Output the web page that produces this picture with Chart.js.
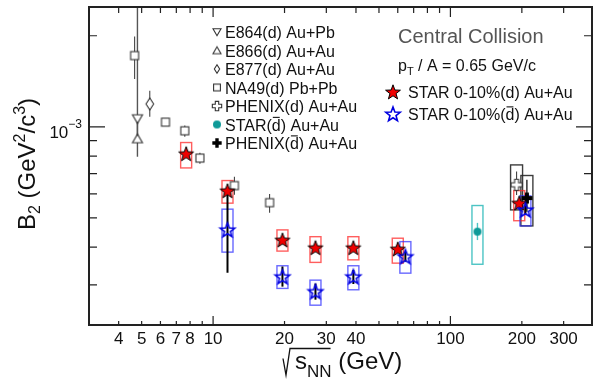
<!DOCTYPE html>
<html lang="en">
<head>
<meta charset="UTF-8">
<title>B2 vs collision energy</title>
<script src="https://cdn.jsdelivr.net/npm/chart.js@4.4.1/dist/chart.umd.min.js"></script>
<style>
  html, body { margin: 0; padding: 0; background: #fff; }
</style>
</head>
<body>
<canvas id="myChart" width="600" height="383"></canvas>
<script>
// values (x = sqrt(sNN) in GeV, y = B2 in GeV^2/c^3)
const xTickLabels = [4, 5, 6, 7, 8, 10, 20, 30, 40, 100, 200, 300];
const xMinorTicks = [3, 4, 5, 6, 7, 8, 9, 20, 30, 40, 50, 60, 70, 80, 90, 200, 300];
const xMajorTicks = [10, 100];
const yMinorTicks = [3e-4, 4e-4, 5e-4, 6e-4, 7e-4, 8e-4, 9e-4, 2e-3];
const yMajorTicks = [1e-3];

// STAR 0-10% deuterons
const starDX     = [7.7, 11.5, 19.6, 27, 39, 60, 195];
const starD      = [8.14e-4, 6.14e-4, 4.22e-4, 3.98e-4, 3.98e-4, 3.94e-4, 5.59e-4];
const starDSysLo = [7.31e-4, 5.59e-4, 3.88e-4, 3.56e-4, 3.63e-4, 3.54e-4, 4.89e-4];
const starDSysHi = [8.87e-4, 6.64e-4, 4.56e-4, 4.33e-4, 4.33e-4, 4.28e-4, 6.15e-4];

// STAR 0-10% anti-deuterons
const starDbarX     = [11.5, 19.6, 27, 39, 64.6, 207];
const starDbar      = [4.56e-4, 3.19e-4, 2.85e-4, 3.19e-4, 3.72e-4, 5.31e-4];
const starDbarErrLo = [3.29e-4, 2.96e-4, 2.68e-4, 3.02e-4, 3.58e-4, 5.15e-4];
const starDbarErrHi = [6.04e-4, 3.45e-4, 3.03e-4, 3.36e-4, 3.86e-4, 5.48e-4];
const starDbarSysLo = [3.85e-4, 2.92e-4, 2.57e-4, 2.89e-4, 3.28e-4, 4.70e-4];
const starDbarSysHi = [5.34e-4, 3.47e-4, 3.11e-4, 3.47e-4, 4.17e-4, 5.91e-4];

// STAR anti-deuterons at 130 GeV
const star130X = [130];
const star130 = [4.50e-4];
const star130ErrLo = [4.22e-4];
const star130ErrHi = [4.81e-4];
const star130SysLo = [3.51e-4];
const star130SysHi = [5.49e-4];

// PHENIX
const phenixDX = [190];
const phenixD = [6.43e-4];
const phenixDErrLo = [5.95e-4];
const phenixDErrHi = [7.11e-4];
const phenixDSysLo = [5.31e-4];
const phenixDSysHi = [7.48e-4];
const phenixDbarX = [210];
const phenixDbar = [5.81e-4];
const phenixDbarErrLo = [5.24e-4];
const phenixDbarErrHi = [6.68e-4];
const phenixDbarSysLo = [4.70e-4];
const phenixDbarSysHi = [6.90e-4];

// NA49
const na49X = [4.67, 6.3, 7.6, 8.8, 12.3, 17.3];
const na49 = [1.72e-3, 1.036e-3, 9.70e-4, 7.88e-4, 6.39e-4, 5.61e-4];
const na49ErrLo = [1.44e-3, 1.02e-3, 9.27e-4, 7.54e-4, 5.96e-4, 5.20e-4];
const na49ErrHi = [1.99e-3, 1.05e-3, 1.01e-3, 8.20e-4, 6.84e-4, 5.99e-4];

// AGS
const e864X = [4.8], e864 = [1.063e-3], e864ErrLo = [9.2e-4], e864ErrHi = [3e-3];
const e866X = [4.8], e866 = [9.13e-4], e866ErrLo = [7.96e-4], e866ErrHi = [1.063e-3];
const e877X = [5.41], e877 = [1.19e-3], e877ErrLo = [1.079e-3], e877ErrHi = [1.316e-3];

const FONT = '"Liberation Sans", Arial, Helvetica, sans-serif';

// ---- marker images ----
function markerCanvas(w, h, draw) {
  const c = document.createElement('canvas');
  c.width = w; c.height = h;
  draw(c.getContext('2d'), w / 2, h / 2);
  return c;
}
function starPath(g, cx, cy, R, r) {
  g.beginPath();
  for (let i = 0; i < 10; i++) {
    const rad = i % 2 ? r : R;
    const a = -Math.PI / 2 + i * Math.PI / 5;
    const X = cx + rad * Math.cos(a), Y = cy + rad * Math.sin(a);
    if (i) g.lineTo(X, Y); else g.moveTo(X, Y);
  }
  g.closePath();
}
function polyPath(g, pts) {
  g.beginPath();
  pts.forEach((p, i) => i ? g.lineTo(p[0], p[1]) : g.moveTo(p[0], p[1]));
  g.closePath();
}
function crossPts(cx, cy, a, b) {
  return [[cx - b, cy - a], [cx + b, cy - a], [cx + b, cy - b], [cx + a, cy - b], [cx + a, cy + b],
          [cx + b, cy + b], [cx + b, cy + a], [cx - b, cy + a], [cx - b, cy + b], [cx - a, cy + b],
          [cx - a, cy - b], [cx - b, cy - b]];
}
function redStar(s) {
  return markerCanvas(20, 20, (g, cx, cy) => {
    starPath(g, cx, cy + 0.6, 7.8 * s, 3.2 * s);
    g.fillStyle = '#f00000'; g.fill();
    g.strokeStyle = '#000'; g.lineWidth = 1; g.stroke();
  });
}
function blueStar(s) {
  return markerCanvas(20, 20, (g, cx, cy) => {
    starPath(g, cx, cy + 0.6, 7.6 * s, 3.2 * s);
    g.strokeStyle = '#0000e0'; g.lineWidth = 1.6; g.stroke();
  });
}
function triDown(s) {
  return markerCanvas(14, 14, (g, cx, cy) => {
    polyPath(g, [[cx - 5 * s, cy - 4 * s], [cx + 5 * s, cy - 4 * s], [cx, cy + 4.6 * s]]);
    g.fillStyle = '#fff'; g.fill(); g.strokeStyle = '#333'; g.lineWidth = 1.1; g.stroke();
  });
}
function triUp(s) {
  return markerCanvas(14, 14, (g, cx, cy) => {
    polyPath(g, [[cx - 5 * s, cy + 4 * s], [cx + 5 * s, cy + 4 * s], [cx, cy - 4.6 * s]]);
    g.fillStyle = '#fff'; g.fill(); g.strokeStyle = '#333'; g.lineWidth = 1.1; g.stroke();
  });
}
function diamond(s) {
  return markerCanvas(14, 16, (g, cx, cy) => {
    polyPath(g, [[cx, cy - 6 * s], [cx + 3.8 * s, cy], [cx, cy + 6 * s], [cx - 3.8 * s, cy]]);
    g.fillStyle = '#fff'; g.fill(); g.strokeStyle = '#333'; g.lineWidth = 1.1; g.stroke();
  });
}
function square(s) {
  return markerCanvas(12, 12, (g, cx, cy) => {
    g.fillStyle = '#fff'; g.fillRect(cx - 4 * s, cy - 4 * s, 8 * s, 8 * s);
    g.strokeStyle = '#333'; g.lineWidth = 1.1; g.strokeRect(cx - 4 * s, cy - 4 * s, 8 * s, 8 * s);
  });
}
function openCross(s) {
  return markerCanvas(14, 14, (g, cx, cy) => {
    polyPath(g, crossPts(cx, cy, 5.5 * s, 2 * s));
    g.fillStyle = '#fff'; g.fill(); g.strokeStyle = '#333'; g.lineWidth = 1.1; g.stroke();
  });
}
function fullCross(s) {
  return markerCanvas(14, 14, (g, cx, cy) => {
    polyPath(g, crossPts(cx, cy, 5.5 * s, 2 * s));
    g.fillStyle = '#000'; g.fill();
  });
}
function tealDot(s) {
  return markerCanvas(12, 12, (g, cx, cy) => {
    g.beginPath(); g.arc(cx, cy, 4 * s, 0, Math.PI * 2);
    g.fillStyle = '#0e9a98'; g.fill();
  });
}

const pts = (xs, ys) => xs.map((x, i) => ({ x: x, y: ys[i] }));

// ---- boxes and error bars built from the arrays ----
const boxes = [];
const addBoxes = (xs, lo, hi, color, w) => xs.forEach((x, i) => boxes.push({ x, lo: lo[i], hi: hi[i], color, w }));
addBoxes(phenixDX, phenixDSysLo, phenixDSysHi, 'rgba(40,40,40,0.9)', 12);
addBoxes(phenixDbarX, phenixDbarSysLo, phenixDbarSysHi, 'rgba(40,40,40,0.9)', 12);
addBoxes(star130X, star130SysLo, star130SysHi, '#4cc4c4', 11);
addBoxes(starDX, starDSysLo, starDSysHi, 'rgba(255,40,40,0.75)', 11);
addBoxes(starDbarX, starDbarSysLo, starDbarSysHi, 'rgba(40,40,255,0.7)', 11);

const bars = [];
const addBars = (xs, lo, hi, color, lw) => xs.forEach((x, i) => bars.push({ x, lo: lo[i], hi: hi[i], color, lw }));
addBars(e864X, e864ErrLo, e864ErrHi, '#555', 1.4);
addBars(e866X, e866ErrLo, e866ErrHi, '#555', 1.4);
addBars(e877X, e877ErrLo, e877ErrHi, '#444', 1.1);
addBars(na49X, na49ErrLo, na49ErrHi, '#444', 1.1);
addBars(phenixDX, phenixDErrLo, phenixDErrHi, '#444', 1.1);
addBars(phenixDbarX, phenixDbarErrLo, phenixDbarErrHi, '#222', 1.4);
addBars(star130X, star130ErrLo, star130ErrHi, '#4cc4c4', 1.4);
addBars(starDbarX, starDbarErrLo, starDbarErrHi, '#000', 2);

function textRuns(ctx, x, y, parts, align) {
  let w = 0;
  parts.forEach(p => { ctx.font = p[1] + 'px ' + FONT; w += ctx.measureText(p[0]).width; });
  let cx = align === 'center' ? x - w / 2 : align === 'right' ? x - w : x;
  parts.forEach(p => {
    ctx.font = p[1] + 'px ' + FONT;
    const dy = p[2] || 0;
    ctx.fillText(p[0], cx, y + dy);
    const tw = ctx.measureText(p[0]).width;
    if (p[3]) {
      ctx.save();
      ctx.strokeStyle = ctx.fillStyle; ctx.lineWidth = 1.1;
      ctx.beginPath();
      ctx.moveTo(cx + 1, y + dy - p[1] * 0.82);
      ctx.lineTo(cx + tw - 1, y + dy - p[1] * 0.82);
      ctx.stroke();
      ctx.restore();
    }
    cx += tw;
  });
  return w;
}

const decor = {
  id: 'decor',
  beforeDatasetsDraw(chart) {
    const { ctx, chartArea: a, scales: { x, y } } = chart;
    ctx.save();
    ctx.beginPath(); ctx.rect(a.left, a.top, a.right - a.left, a.bottom - a.top); ctx.clip();
    boxes.forEach(b => {
      const px = x.getPixelForValue(b.x);
      const y1 = y.getPixelForValue(b.hi), y2 = y.getPixelForValue(b.lo);
      ctx.strokeStyle = b.color; ctx.lineWidth = 1.4;
      ctx.strokeRect(px - b.w / 2, y1, b.w, y2 - y1);
    });
    bars.forEach(b => {
      const px = x.getPixelForValue(b.x);
      ctx.strokeStyle = b.color; ctx.lineWidth = b.lw;
      ctx.beginPath();
      ctx.moveTo(px, y.getPixelForValue(b.hi));
      ctx.lineTo(px, y.getPixelForValue(b.lo));
      ctx.stroke();
    });
    ctx.restore();
  },
  afterDraw(chart) {
    const { ctx, chartArea: a, scales: { x, y } } = chart;
    ctx.save();
    // frame
    ctx.strokeStyle = '#222'; ctx.lineWidth = 2;
    ctx.strokeRect(a.left, a.top, a.right - a.left, a.bottom - a.top);
    ctx.lineWidth = 1.2;
    ctx.beginPath();
    const xt = (v, lenB, lenT) => {
      const p = x.getPixelForValue(v);
      ctx.moveTo(p, a.bottom); ctx.lineTo(p, a.bottom - lenB);
      ctx.moveTo(p, a.top); ctx.lineTo(p, a.top + lenT);
    };
    xMinorTicks.forEach(v => xt(v, 4, 6));
    xMajorTicks.forEach(v => xt(v, 9, 10));
    const yt = (v, len) => {
      const p = y.getPixelForValue(v);
      ctx.moveTo(a.left, p); ctx.lineTo(a.left + len, p);
      ctx.moveTo(a.right, p); ctx.lineTo(a.right - len, p);
    };
    yMinorTicks.forEach(v => yt(v, 8));
    yMajorTicks.forEach(v => yt(v, 16));
    ctx.stroke();

    ctx.fillStyle = '#111';
    ctx.textBaseline = 'alphabetic';
    // x tick labels, placed with the x scale
    ctx.font = '17px ' + FONT;
    ctx.textAlign = 'center';
    xTickLabels.forEach(v => ctx.fillText(String(v), x.getPixelForValue(v), a.bottom + 18.5));
    ctx.textAlign = 'left';

    // y tick label 10^-3
    const y3 = y.getPixelForValue(1e-3);
    textRuns(ctx, 82, y3 + 11, [['10', 17], ['\u22123', 12, -10]], 'right');

    // y axis title
    ctx.save();
    ctx.translate(35, 164);
    ctx.rotate(-Math.PI / 2);
    textRuns(ctx, 0, 0, [['B', 24], ['2', 16, 5], [' (GeV', 24], ['2', 16, -10], ['/c', 24], ['3', 16, -10], [')', 24]], 'center');
    ctx.restore();

    // x axis title: sqrt(s_NN) (GeV)
    const by = 368.5;
    ctx.font = '24px ' + FONT;
    const sw = ctx.measureText('s').width;
    ctx.font = '17px ' + FONT;
    const nw = ctx.measureText('NN').width;
    const sx = 295;
    ctx.strokeStyle = '#111'; ctx.lineWidth = 1.3;
    ctx.beginPath();
    ctx.moveTo(283, by - 10); ctx.lineTo(286, by + 6.5);
    ctx.lineTo(290, by - 20); ctx.lineTo(sx + sw + nw - 1, by - 20);
    ctx.stroke();
    textRuns(ctx, sx, by, [['s', 24], ['NN', 17, 8], [' (GeV)', 24]], 'left');

    // left legend
    const leg = [
      [triDown(0.8), [['E864(d) Au+Pb', 16]]],
      [triUp(0.8), [['E866(d) Au+Au', 16]]],
      [diamond(0.7), [['E877(d) Au+Au', 16]]],
      [square(0.85), [['NA49(d) Pb+Pb', 16]]],
      [openCross(0.85), [['PHENIX(d) Au+Au', 16]]],
      [tealDot(1), [['STAR(', 16], ['d', 16, 0, true], [') Au+Au', 16]]],
      [fullCross(0.85), [['PHENIX(', 16], ['d', 16, 0, true], [') Au+Au', 16]]]
    ];
    leg.forEach((row, i) => {
      const cy = 32 + i * 18.5;
      ctx.drawImage(row[0], 217 - row[0].width / 2, cy - row[0].height / 2);
      textRuns(ctx, 225, cy + 6, row[1], 'left');
    });

    // right legend
    ctx.fillStyle = '#555';
    textRuns(ctx, 398, 43, [['Central Collision', 20]], 'left');
    ctx.fillStyle = '#111';
    textRuns(ctx, 398, 71, [['p', 16], ['T', 11, 4], [' / A = 0.65 GeV/c', 16]], 'left');
    const rs = redStar(1), bs = blueStar(1);
    ctx.drawImage(rs, 393 - 10, 92 - 10);
    ctx.drawImage(bs, 393 - 10, 114 - 10);
    textRuns(ctx, 408, 97.5, [['STAR 0-10%(d) Au+Au', 16]], 'left');
    textRuns(ctx, 408, 120, [['STAR 0-10%(', 16], ['d', 16, 0, true], [') Au+Au', 16]], 'left');
    ctx.restore();
  }
};

const ds = (data, img, order) => ({ data, pointStyle: img, pointRadius: 6, pointHoverRadius: 6, order });

new Chart(document.getElementById('myChart'), {
  type: 'scatter',
  data: {
    datasets: [
      ds(pts(starDbarX, starDbar), blueStar(1), 0),
      ds(pts(starDX, starD), redStar(1), 1),
      ds(pts(star130X, star130), tealDot(1), 2),
      ds(pts(phenixDX, phenixD), openCross(1), 3),
      ds(pts(phenixDbarX, phenixDbar), fullCross(1), 3),
      ds(pts(na49X, na49), square(1), 4),
      ds(pts(e864X, e864), triDown(1), 4),
      ds(pts(e866X, e866), triUp(1), 4),
      ds(pts(e877X, e877), diamond(1), 4)
    ]
  },
  options: {
    responsive: false,
    animation: false,
    devicePixelRatio: 1,
    layout: { padding: { top: 7, right: 8, left: 0, bottom: 0 } },
    plugins: { legend: { display: false }, tooltip: { enabled: false } },
    scales: {
      x: {
        type: 'logarithmic',
        min: 3, max: 395,
        grid: { display: false, drawTicks: false },
        border: { display: false },
        ticks: { display: false },
        afterFit: s => { s.height = 58; }
      },
      y: {
        type: 'logarithmic',
        min: 2.21e-4, max: 2.49e-3,
        grid: { display: false, drawTicks: false },
        border: { display: false },
        ticks: { display: false },
        afterFit: s => { s.width = 89; }
      }
    }
  },
  plugins: [decor]
});
</script>
</body>
</html>
